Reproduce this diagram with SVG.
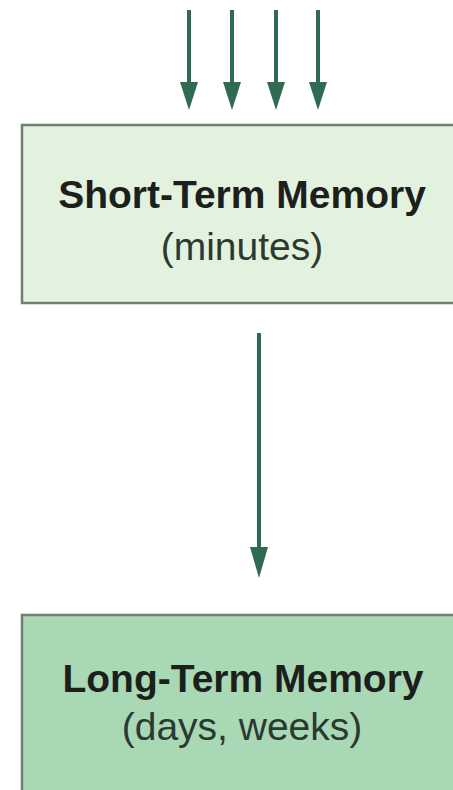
<svg xmlns="http://www.w3.org/2000/svg" width="453" height="790" viewBox="0 0 453 790">
<style>
.box{stroke:#6f7f72;stroke-width:2.5}
.title{font-family:"Liberation Sans",Arial,sans-serif;font-weight:bold;font-size:39px;fill:#1c1f1c;text-anchor:middle}
.sub{font-family:"Liberation Sans",Arial,sans-serif;font-size:39px;fill:#2b3a30;text-anchor:middle}
.conn line{stroke:#2f6b52;stroke-width:4}
.conn polygon{fill:#2f6b52}
</style>
<rect width="453" height="790" fill="#ffffff"/>
<g id="short-term">
<rect class="box" x="22" y="125" width="445" height="178" fill="#e3f2df"/>
<text class="title" x="242" y="208">Short-Term Memory</text>
<text class="sub" x="242" y="260">(minutes)</text>
</g>
<g id="long-term">
<rect class="box" x="22" y="615" width="445" height="200" fill="#a9d8b5"/>
<text class="title" x="243" y="692">Long-Term Memory</text>
<text class="sub" x="242" y="740">(days, weeks)</text>
</g>
<g class="conn" id="connectors">
<line x1="189" y1="10" x2="189" y2="86"/>
<polygon points="180,82 198,82 189,110"/>
<line x1="232" y1="10" x2="232" y2="86"/>
<polygon points="223,82 241,82 232,110"/>
<line x1="276" y1="10" x2="276" y2="86"/>
<polygon points="267,82 285,82 276,110"/>
<line x1="318" y1="10" x2="318" y2="86"/>
<polygon points="309,82 327,82 318,110"/>
<line x1="259" y1="333" x2="259" y2="550"/>
<polygon points="250,547 268,547 259,578"/>
</g>
</svg>
